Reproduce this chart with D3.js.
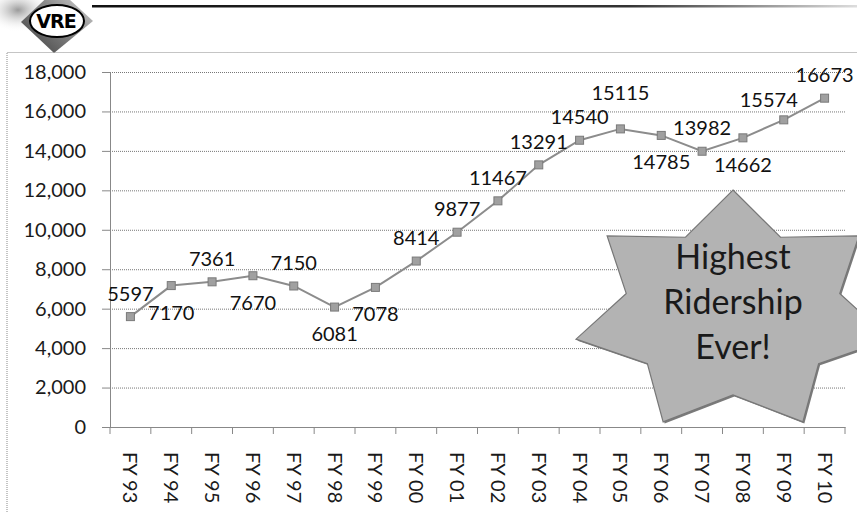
<!DOCTYPE html>
<html>
<head>
<meta charset="utf-8">
<script src="https://cdn.jsdelivr.net/npm/d3@7/dist/d3.min.js"></script>
<style>
  body { margin: 0; background: #fff; }
  svg { display: block; }
  text { font-family: Lato, "Open Sans", sans-serif; }
</style>
</head>
<body>
<div id="chart"></div>
<script>
/* CONSTANTS AND GLOBALS */
const width = 857;
const height = 512;
const margin = { top: 72, right: 12, bottom: 85, left: 110 };

// DATA ######################################################
const years = ["FY 93", "FY 94", "FY 95", "FY 96", "FY 97", "FY 98", "FY 99",
  "FY 00", "FY 01", "FY 02", "FY 03", "FY 04", "FY 05", "FY 06", "FY 07",
  "FY 08", "FY 09", "FY 10"];
const riders = [5597, 7170, 7361, 7670, 7150, 6081, 7078, 8414, 9877, 11467,
  13291, 14540, 15115, 14785, 13982, 14662, 15574, 16673];
// where each value label sits relative to its marker
const labelSide = ["above", "below", "above", "below", "above", "below", "below",
  "above", "above", "above", "above", "above", "high", "below", "above",
  "below", "left", "above"];
const yTicks = [0, 2000, 4000, 6000, 8000, 10000, 12000, 14000, 16000, 18000];
const starLines = ["Highest", "Ridership", "Ever!"];

const rows = years.map((d, i) => ({ year: d, value: riders[i], side: labelSide[i] }));

let svg, xScale, yScale;

init();

// INITIALIZING FUNCTION #####################################
function init() {

  // SCALES =================================================
  xScale = d3.scaleBand()
    .domain(years)
    .range([margin.left, width - margin.right]);

  yScale = d3.scaleLinear()
    .domain([0, 18000])
    .range([height - margin.bottom, margin.top]);

  svg = d3.select("#chart")
    .append("svg")
    .attr("width", width)
    .attr("height", height);

  const defs = svg.append("defs");

  const diaGrad = defs.append("linearGradient")
    .attr("id", "diaGrad")
    .attr("x1", 0).attr("y1", 1).attr("x2", 1).attr("y2", 0);
  diaGrad.append("stop").attr("offset", "0%").attr("stop-color", "#3a3a3a");
  diaGrad.append("stop").attr("offset", "55%").attr("stop-color", "#8a8a8a");
  diaGrad.append("stop").attr("offset", "100%").attr("stop-color", "#e4e4e4");

  const hazeGrad = defs.append("radialGradient")
    .attr("id", "hazeGrad");
  hazeGrad.append("stop").attr("offset", "0%").attr("stop-color", "#9a9a9a");
  hazeGrad.append("stop").attr("offset", "100%").attr("stop-color", "#fff").attr("stop-opacity", 0);

  const barGrad = defs.append("linearGradient")
    .attr("id", "barGrad");
  barGrad.append("stop").attr("offset", "0%").attr("stop-color", "#111");
  barGrad.append("stop").attr("offset", "70%").attr("stop-color", "#333");
  barGrad.append("stop").attr("offset", "100%").attr("stop-color", "#ddd");

  // HEADER ================================================
  svg.append("rect")
    .attr("x", 92).attr("y", 5)
    .attr("width", width - 92).attr("height", 2.5)
    .attr("fill", "url(#barGrad)");

  svg.append("ellipse")
    .attr("cx", 18).attr("cy", 10)
    .attr("rx", 34).attr("ry", 22)
    .attr("fill", "url(#hazeGrad)");

  svg.append("polygon")
    .attr("points", "57,-12 93,21 54,53 21,22")
    .attr("fill", "url(#diaGrad)");

  svg.append("ellipse")
    .attr("cx", 57).attr("cy", 21)
    .attr("rx", 27).attr("ry", 16)
    .attr("fill", "#fff")
    .attr("stroke", "#000")
    .attr("stroke-width", 2);

  svg.append("text")
    .attr("x", 56).attr("y", 28)
    .attr("text-anchor", "middle")
    .style("font-family", "'DejaVu Sans', sans-serif")
    .style("font-weight", "bold")
    .style("font-size", "19px")
    .style("letter-spacing", "-1px")
    .attr("fill", "#000")
    .text("VRE");

  // chart frame
  svg.append("path")
    .attr("d", `M7,${height} V52.5 H${width}`)
    .attr("fill", "none")
    .attr("stroke", "#8a8a8a")
    .attr("stroke-dasharray", "1,1");

  // GRIDLINES AND AXES =====================================
  svg.append("g")
    .attr("class", "grid")
    .attr("transform", `translate(${margin.left}, 0)`)
    .call(d3.axisLeft(yScale).tickValues(yTicks)
      .tickSize(-(width - margin.right - margin.left)).tickFormat(""))
    .call(g => g.select(".domain").remove())
    .call(g => g.selectAll("line")
      .attr("stroke", "#777")
      .attr("stroke-dasharray", "1,1"));

  const yAxisGroup = svg.append("g")
    .attr("class", "y-axis")
    .attr("transform", `translate(${margin.left}, 0)`)
    .call(d3.axisLeft(yScale).tickValues(yTicks)
      .tickSize(8).tickPadding(16).tickFormat(d3.format(",")));

  yAxisGroup.select(".domain").attr("stroke", "#888");
  yAxisGroup.selectAll("line").attr("stroke", "#888");
  yAxisGroup.selectAll("text")
    .style("font-size", "20px")
    .attr("fill", "#1a1a1a");

  // x axis: ticks sit on band boundaries like the original
  const xAxisGroup = svg.append("g")
    .attr("class", "x-axis")
    .attr("transform", `translate(0, ${yScale(0)})`)
    .call(d3.axisBottom(xScale).tickSize(0))
    .call(g => g.select(".domain").attr("stroke", "#888"));

  xAxisGroup.selectAll("text")
    .attr("transform", "rotate(90)")
    .attr("x", 25)
    .attr("y", 0)
    .attr("dy", "0.35em")
    .attr("text-anchor", "start")
    .style("font-size", "20px")
    .attr("fill", "#1a1a1a");

  xAxisGroup.selectAll(".bound")
    .data(d3.range(years.length + 1))
    .join("line")
    .attr("class", "bound")
    .attr("x1", i => margin.left + i * xScale.step())
    .attr("x2", i => margin.left + i * xScale.step())
    .attr("y1", 0)
    .attr("y2", 7)
    .attr("stroke", "#888");

  // LINE AND MARKERS =======================================
  const cx = d => xScale(d.year) + xScale.bandwidth() / 2;

  const line = d3.line()
    .x(cx)
    .y(d => yScale(d.value));

  svg.append("path")
    .datum(rows)
    .attr("d", line)
    .attr("fill", "none")
    .attr("stroke", "#8c8c8c")
    .attr("stroke-width", 2);

  svg.selectAll(".marker")
    .data(rows)
    .join("rect")
    .attr("class", "marker")
    .attr("x", d => cx(d) - 4)
    .attr("y", d => yScale(d.value) - 4)
    .attr("width", 8)
    .attr("height", 8)
    .attr("fill", "#a0a0a0")
    .attr("stroke", "#7a7a7a");

  // value labels
  const offset = {
    above: [0, -16],
    high: [0, -29],
    below: [0, 34],
    left: [-15, -13]
  };

  svg.selectAll(".val")
    .data(rows)
    .join("text")
    .attr("class", "val")
    .attr("text-anchor", "middle")
    .attr("x", d => cx(d) + offset[d.side][0])
    .attr("y", d => yScale(d.value) + offset[d.side][1])
    .style("font-size", "20px")
    .attr("fill", "#111")
    .text(d => d.value);

  // STAR CALLOUT ===========================================
  const star = { x: 733, y: 312, rx: 161, ry: 122, inner: 0.68 };
  const starPts = d3.range(14).map(k => {
    const a = -Math.PI / 2 + k * Math.PI / 7;
    const r = k % 2 === 0 ? 1 : star.inner;
    return [star.x + star.rx * r * Math.cos(a), star.y + star.ry * r * Math.sin(a)];
  });
  const starPath = d3.line().curve(d3.curveLinearClosed);

  svg.append("path")
    .attr("d", starPath(starPts))
    .attr("transform", "translate(1.5,1.5)")
    .attr("fill", "#7a7a7a");

  svg.append("path")
    .attr("d", starPath(starPts))
    .attr("fill", "#b3b3b3")
    .attr("stroke", "#777")
    .attr("stroke-width", 1.2);

  svg.selectAll(".star-text")
    .data(starLines)
    .join("text")
    .attr("class", "star-text")
    .attr("text-anchor", "middle")
    .attr("x", star.x)
    .attr("y", (d, i) => 269 + i * 45)
    .style("font-size", "34px")
    .attr("fill", "#1a1a1a")
    .text(d => d);
}
</script>
</body>
</html>
